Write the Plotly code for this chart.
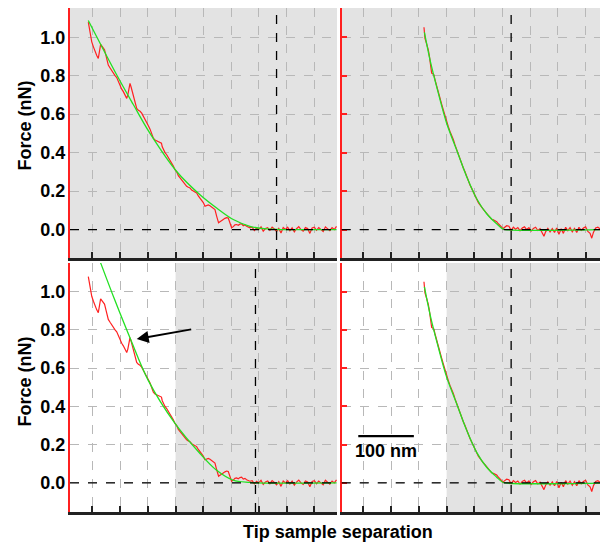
import plotly.graph_objects as go

# ---------------- data (x in nm, force in nN) ----------------
left_red_x = [42.8, 45, 47, 49, 52, 55, 58, 60.8, 63, 65, 67, 70, 72, 75, 78.8, 82, 85, 87.8, 91, 94, 96.8, 100,
              103, 105.9, 109, 112, 114, 116, 117.9, 120, 123.9, 127, 130, 133, 136, 139, 142, 145, 148, 151, 154,
              157, 160, 163, 166, 169, 172, 174.6, 176, 178, 181, 184, 187, 190, 193, 196, 199, 202, 205, 208,
              211, 214, 217, 220, 223, 226, 229, 232, 235, 238, 241, 244, 247, 250, 253, 256, 259, 262, 265, 268,
              271, 274, 277.5, 280, 283, 286, 289, 292, 295, 298, 301, 304, 307, 310, 313, 316, 319, 322, 325,
              328, 331, 334, 338, 342, 346, 350, 354, 358, 362, 366, 370, 374, 378, 382, 386, 390, 394, 398, 402,
              406, 410, 414, 418, 422, 426, 430, 434, 438, 442, 446, 450, 454, 458, 462, 466, 470, 474, 478, 482,
              486, 490]
left_red_y = [1.079, 1.04, 1.00, 0.976, 0.95, 0.924, 0.905, 0.89, 0.93, 0.963, 0.955, 0.941, 0.935, 0.90, 0.855,
              0.84, 0.825, 0.812, 0.80, 0.79, 0.768, 0.75, 0.73, 0.717, 0.695, 0.682, 0.70, 0.74, 0.760, 0.74,
              0.70, 0.665, 0.63, 0.62, 0.615, 0.605, 0.59, 0.575, 0.561, 0.54, 0.522, 0.50, 0.475, 0.465, 0.46,
              0.458, 0.452, 0.449, 0.43, 0.415, 0.40, 0.389, 0.375, 0.363, 0.345, 0.33, 0.311, 0.30, 0.28, 0.268,
              0.255, 0.243, 0.233, 0.225, 0.22, 0.216, 0.205, 0.20, 0.195, 0.19, 0.175, 0.165, 0.155, 0.14, 0.121,
              0.125, 0.128, 0.124, 0.118, 0.11, 0.104, 0.07, 0.035, 0.04, 0.048, 0.052, 0.058, 0.062, 0.06, 0.03,
              0.009, 0.015, 0.024, 0.026, 0.022, 0.028, 0.03, 0.02, 0.024, 0.017, 0.012, 0.009, 0.012, -0.005,
              0.008, 0.0, 0.014, -0.008, 0.005, 0.01, -0.004, 0.012, 0.003, -0.01, 0.006, -0.018, 0.01, 0.0, 0.012,
              -0.006, 0.009, -0.012, 0.004, 0.015, 0.0, -0.008, 0.01, 0.005, -0.02, 0.008, 0.012, -0.004, 0.01,
              0.002, -0.01, 0.014, 0.004, -0.006, 0.01, 0.0, 0.016, -0.008, 0.012]

right_red_x = [159.2, 161, 163, 165, 167, 169, 171, 173, 175, 177, 179, 182, 185, 188, 191, 194, 197, 200, 203,
               206, 209, 212, 215, 218, 221, 224, 227, 230, 233, 236, 239, 242, 245, 248, 251, 254, 257, 260, 263,
               266, 269, 272, 275, 278, 281, 284, 287, 290, 293, 296, 299, 301, 304, 308, 312, 316, 320, 324, 328,
               332, 336, 340, 344, 348, 352, 356, 360, 364, 368, 372, 375, 378, 382, 386, 390, 394, 398, 402, 406,
               410, 414, 418, 422, 426, 430, 434, 438, 442, 446, 450, 454, 458, 461, 464, 468, 472, 476, 480, 484,
               488]
right_red_y = [1.052, 0.994, 0.975, 0.955, 0.934, 0.90, 0.864, 0.813, 0.81, 0.804, 0.78, 0.745, 0.709, 0.68,
               0.652, 0.622, 0.59, 0.553, 0.535, 0.51, 0.492, 0.468, 0.44, 0.414, 0.395, 0.37, 0.344, 0.32, 0.30,
               0.275, 0.255, 0.232, 0.214, 0.195, 0.17, 0.153, 0.14, 0.128, 0.119, 0.105, 0.095, 0.084, 0.07, 0.06,
               0.053, 0.05, 0.044, 0.041, 0.03, 0.023, 0.012, 0.004, 0.012, 0.02, 0.017, -0.004, 0.012, 0.002,
               0.01, -0.006, 0.008, 0.014, 0.0, 0.01, -0.008, 0.006, 0.012, -0.005, 0.004, -0.02, -0.035, -0.012,
               0.006, -0.012, 0.005, -0.015, 0.008, -0.025, 0.004, -0.02, 0.012, -0.006, 0.01, -0.012, 0.006, -0.015,
               0.012, -0.004, 0.008, 0.014, -0.01, -0.02, -0.045, -0.015, 0.008, 0.012, 0.004, 0.016, 0.006, 0.01,
               -0.002]

fit_tl_x = [42.8, 93.8, 123.9, 154, 202, 244, 274, 304, 334, 364, 390, 490]
fit_tl_y = [1.087, 0.805, 0.65, 0.50, 0.302, 0.181, 0.112, 0.052, 0.017, 0.003, 0.0, 0.0]

fit_bl_x = [60, 65.1, 90, 118, 151, 199, 244, 274, 304, 334, 345, 490]
fit_bl_y = [1.19, 1.150, 0.96, 0.758, 0.535, 0.311, 0.154, 0.066, 0.014, 0.003, 0.0, 0.0]

fit_r_x = [160, 171, 185, 200, 218, 236, 254, 272, 290, 300, 305, 490]
fit_r_y = [1.025, 0.87, 0.709, 0.553, 0.414, 0.275, 0.16, 0.082, 0.03, 0.005, 0.0, 0.0]

contact_x = {"tl": 382, "tr": 316, "bl": 344, "br": 316}
shade_start = 200  # grey region start in bottom panels (nm)
y_ticks = [0.0, 0.2, 0.4, 0.6, 0.8, 1.0]

# ---------------- styling ----------------
RED = "#ff2020"
GREEN = "#22e022"
GREY_BG = "#e3e3e3"
GRID = "#b8b8b8"
FONT = "Liberation Sans"

W, H = 608, 542
OFF = 8  # page body margin


def px(sx):
    return (sx - OFF) / W


def py(sy):
    return 1 - (sy - OFF) / H


xl = [px(70), px(337)]
xr = [px(341.7), px(608.7)]
yt = [py(258), py(8)]
yb = [py(512), py(263)]
XR_L = [9.8, 490.9]
XR_R = [11.2, 491.5]
YR_T = [-0.148, 1.152]
YR_B = [-0.152, 1.15]

fig = go.Figure()

panels = [
    ("x", "y", left_red_x, left_red_y, fit_tl_x, fit_tl_y),
    ("x2", "y2", right_red_x, right_red_y, fit_r_x, fit_r_y),
    ("x3", "y3", left_red_x, left_red_y, fit_bl_x, fit_bl_y),
    ("x4", "y4", right_red_x, right_red_y, fit_r_x, fit_r_y),
]
for xa, ya, rx, ry, gx, gy in panels:
    fig.add_trace(go.Scatter(x=rx, y=ry, mode="lines", line=dict(color=RED, width=1.2),
                             xaxis=xa, yaxis=ya, showlegend=False, hoverinfo="skip"))
    fig.add_trace(go.Scatter(x=gx, y=gy, mode="lines", line=dict(color=GREEN, width=1.3, shape="spline"),
                             xaxis=xa, yaxis=ya, showlegend=False, hoverinfo="skip"))


def xax(domain, rng, anchor):
    return dict(domain=domain, range=rng, anchor=anchor, showticklabels=False,
                tick0=0, dtick=50, ticks="inside", ticklen=6, tickwidth=2, tickcolor="#222222",
                showline=True, linecolor="#222222", linewidth=2.5,
                showgrid=True, gridcolor=GRID, griddash="dash", gridwidth=1, zeroline=False,
                fixedrange=True)


def yax(domain, rng, anchor, labels):
    d = dict(domain=domain, range=rng, anchor=anchor,
             tickvals=y_ticks, tickformat=".1f",
             showline=True, linecolor=RED, linewidth=2,
             showgrid=True, gridcolor=GRID, griddash="dash", gridwidth=1, zeroline=False,
             fixedrange=True)
    if labels:
        d.update(showticklabels=True, ticks="", ticklabelstandoff=-1,
                 tickfont=dict(family=FONT, size=18, color="black", weight="bold"))
    else:
        d.update(showticklabels=False, ticks="inside", ticklen=5, tickwidth=1.5, tickcolor=RED)
    return d


fig.update_layout(
    width=W, height=H, margin=dict(l=0, r=0, t=0, b=0),
    paper_bgcolor="white", plot_bgcolor=GREY_BG,
    xaxis=xax(xl, XR_L, "y"), yaxis=yax(yt, YR_T, "x", True),
    xaxis2=xax(xr, XR_R, "y2"), yaxis2=yax(yt, YR_T, "x2", False),
    xaxis3=xax(xl, XR_L, "y3"), yaxis3=yax(yb, YR_B, "x3", True),
    xaxis4=xax(xr, XR_R, "y4"), yaxis4=yax(yb, YR_B, "x4", False),
    font=dict(family=FONT, color="black"),
)

shapes = []
# white (unshaded) region of bottom panels
for xa, ya, xr0 in [("x3", "y3", XR_L[0]), ("x4", "y4", XR_R[0])]:
    shapes.append(dict(type="rect", xref=xa, yref=ya + " domain", x0=xr0, x1=shade_start, y0=0, y1=1,
                       fillcolor="white", line=dict(width=0), layer="below"))
# dashed zero lines and contact-point lines
for key, xa, ya in [("tl", "x", "y"), ("tr", "x2", "y2"), ("bl", "x3", "y3"), ("br", "x4", "y4")]:
    shapes.append(dict(type="line", xref=xa + " domain", yref=ya, x0=0, x1=1, y0=0, y1=0,
                       line=dict(color="black", width=1.3, dash="dash")))
    shapes.append(dict(type="line", xref=xa, yref=ya + " domain", x0=contact_x[key], x1=contact_x[key],
                       y0=0, y1=1, line=dict(color="black", width=1.3, dash="dash")))
# scale bar (100 nm)
shapes.append(dict(type="line", xref="x4", yref="y4", x0=41, x1=141, y0=0.245, y1=0.245,
                   line=dict(color="black", width=2.2)))
fig.update_layout(shapes=shapes)

annotations = [
    dict(text="<b>Force (nN)</b>", xref="paper", yref="paper", x=px(24.5), y=py(126),
         textangle=-90, showarrow=False, font=dict(size=18, family=FONT), xanchor="center", yanchor="middle"),
    dict(text="<b>Force (nN)</b>", xref="paper", yref="paper", x=px(24.5), y=py(382),
         textangle=-90, showarrow=False, font=dict(size=18, family=FONT), xanchor="center", yanchor="middle"),
    dict(text="<b>Tip sample separation</b>", xref="paper", yref="paper", x=px(338), y=py(532),
         showarrow=False, font=dict(size=18, family=FONT), xanchor="center", yanchor="middle"),
    dict(text="<b>100 nm</b>", xref="x4", yref="y4", x=91, y=0.166,
         showarrow=False, font=dict(size=18, family=FONT), xanchor="center", yanchor="middle"),
    dict(text="", xref="x3", yref="y3", x=130, y=0.752, ax=56, ay=-10, axref="pixel", ayref="pixel",
         showarrow=True, arrowhead=2, arrowsize=1.2, arrowwidth=2, arrowcolor="black"),
]
fig.update_layout(annotations=annotations)

fig.write_html("out.html")
